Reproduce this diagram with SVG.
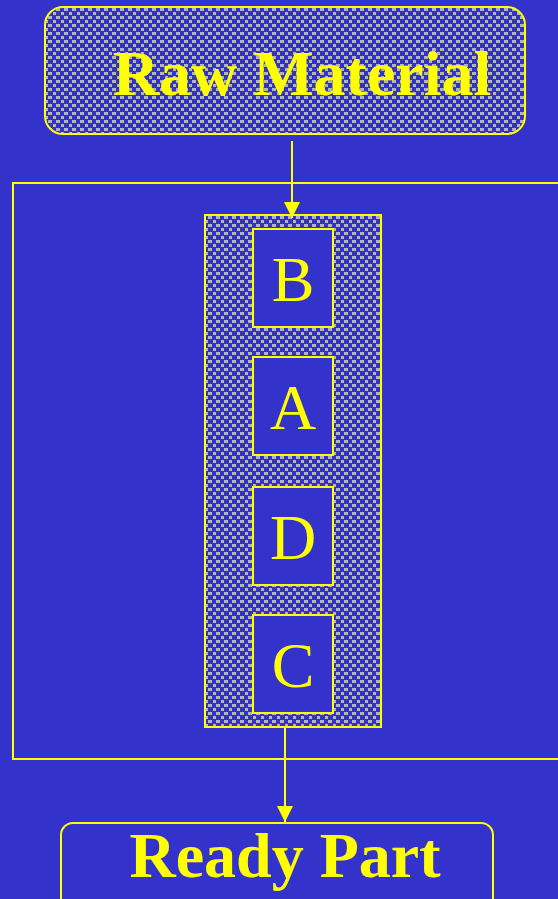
<svg xmlns="http://www.w3.org/2000/svg" width="558" height="899" viewBox="0 0 558 899">
<defs>
<pattern id="weave" width="8" height="8" patternUnits="userSpaceOnUse">
<rect width="8" height="8" fill="#3333CC"/>
<rect x="0" y="0" width="4" height="3" fill="#B4B4B4"/>
<rect x="5" y="4" width="3" height="3" fill="#B4B4B4"/>
</pattern>
<marker id="arr" markerWidth="16" markerHeight="16" viewBox="0 0 16 16" refX="16" refY="8" orient="auto" markerUnits="userSpaceOnUse">
<path d="M0,0 L16,8 L0,16 Z" fill="#FFFF00"/>
</marker>
</defs>
<style>
.box{stroke:#FFFF00;stroke-width:2;fill:#3333CC}
.pat{stroke:#FFFF00;stroke-width:2;fill:url(#weave)}
.big{font-family:"Liberation Serif",serif;font-weight:bold;fill:#FFFF00;text-anchor:middle}
.let{font-family:"Liberation Serif",serif;fill:#FFFF00;text-anchor:middle;font-size:64px}
.con{stroke:#FFFF00;stroke-width:2;fill:none}
</style>
<rect width="558" height="899" fill="#3333CC"/>
<g id="raw">
<rect class="pat" x="45" y="7" width="480" height="127" rx="18"/>
<text class="big" x="302" y="95" font-size="64">Raw Material</text>
</g>
<g id="cell">
<rect class="box" x="13" y="183" width="560" height="576" fill="none"/>
</g>
<g id="column">
<rect class="pat" x="205" y="215" width="176" height="512"/>
</g>
<g id="B"><rect class="box" x="253" y="229" width="80" height="98"/><text class="let" x="293" y="301">B</text></g>
<g id="A"><rect class="box" x="253" y="357" width="80" height="98"/><text class="let" x="293" y="429">A</text></g>
<g id="D"><rect class="box" x="253" y="487" width="80" height="98"/><text class="let" x="293" y="559">D</text></g>
<g id="C"><rect class="box" x="253" y="615" width="80" height="98"/><text class="let" x="293" y="687">C</text></g>
<g id="ready">
<rect class="box" x="61" y="823" width="432" height="95" rx="12"/>
<text class="big" x="285" y="877" font-size="64">Ready Part</text>
</g>
<g id="connectors">
<line class="con" x1="292" y1="141" x2="292" y2="218" marker-end="url(#arr)"/>
<line class="con" x1="285" y1="727" x2="285" y2="822" marker-end="url(#arr)"/>
</g>
</svg>
